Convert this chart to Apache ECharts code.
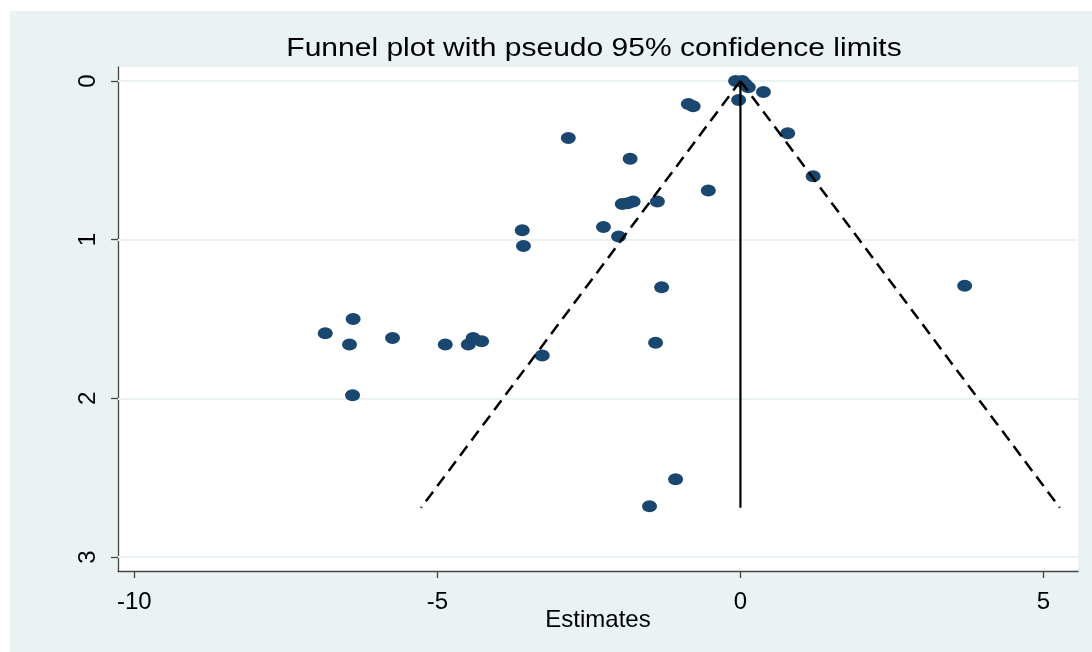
<!DOCTYPE html>
<html>
<head>
<meta charset="utf-8">
<script src="https://cdn.jsdelivr.net/npm/echarts@6/dist/echarts.min.js"></script>
<style>
  html, body { margin: 0; padding: 0; background: #ffffff; }
  #chart { width: 1092px; height: 652px; }
</style>
</head>
<body>
<div id="chart"></div>
<script>
// ---- data ----
const titleText = 'Funnel plot with pseudo 95% confidence limits';
const xAxisName = 'Estimates';
const xTicks = [-10, -5, 0, 5];
const yTicks = [0, 1, 2, 3];

// study estimates (x) and their standard errors (y)
const estimates = [
  -0.08, 0.03, 0.08, 0.13, 0.38, -0.03,
  -0.86, -0.78, -2.84, -1.82, 0.78, 1.20,
  -0.53, -1.37, -1.77, -1.86, -1.95, -2.26,
  -2.01, -3.60, -3.58, -1.30, 3.70, -6.39,
  -6.85, -6.45, -5.74, -4.87, -4.49, -4.41,
  -4.27, -3.27, -1.40, -6.40, -1.07, -1.50
];
const stdErrors = [
  0.00, 0.00, 0.02, 0.04, 0.07, 0.12,
  0.145, 0.16, 0.36, 0.49, 0.33, 0.60,
  0.69, 0.76, 0.76, 0.77, 0.775, 0.92,
  0.98, 0.94, 1.04, 1.30, 1.29, 1.50,
  1.59, 1.66, 1.62, 1.66, 1.66, 1.62,
  1.64, 1.73, 1.65, 1.98, 2.51, 2.68
];

// pseudo 95% confidence limits and pooled estimate line
const limitSE = [0, 2.69];
const lowerLimitX = [0, -5.27];
const upperLimitX = [0, 5.27];
const pooledX = [0, 0];

// ---- build ----
const points = estimates.map((e, i) => [e, stdErrors[i]]);
const lowerLine = limitSE.map((s, i) => [lowerLimitX[i], s]);
const upperLine = limitSE.map((s, i) => [upperLimitX[i], s]);
const pooledLine = limitSE.map((s, i) => [pooledX[i], s]);

const FONT = 'Liberation Sans';
const chart = echarts.init(document.getElementById('chart'), null, { renderer: 'canvas' });

chart.setOption({
  animation: false,
  backgroundColor: '#ffffff',
  graphic: [
    {
      type: 'rect', z: -10, silent: true,
      shape: { x: 10, y: 11, width: 1082, height: 641 },
      style: { fill: '#EAF2F3' }
    },
    {
      type: 'text', z: 10, silent: true,
      x: 594, y: 49, scaleX: 1.2,
      style: {
        text: titleText, fontFamily: FONT, fontSize: 25, fill: '#000000',
        textAlign: 'center', textVerticalAlign: 'middle'
      }
    }
  ],
  grid: {
    left: 118, right: 14, top: 67, bottom: 81,
    show: true, backgroundColor: '#ffffff', borderWidth: 0
  },
  xAxis: {
    type: 'value',
    min: -10.27, max: 5.57,
    name: xAxisName, nameLocation: 'middle', nameGap: 37, nameMoveOverlap: false,
    nameTextStyle: { fontFamily: FONT, fontSize: 24, color: '#000' },
    axisLine: { show: true, onZero: false, lineStyle: { color: '#444', width: 1.3 } },
    axisTick: { show: true, length: 7, customValues: xTicks, lineStyle: { color: '#444', width: 1.3 } },
    axisLabel: { customValues: xTicks, fontFamily: FONT, fontSize: 24, color: '#000', margin: 19 },
    splitLine: { show: false }
  },
  yAxis: {
    type: 'value',
    inverse: true,
    min: -0.088, max: 3.088,
    axisLine: { show: true, onZero: false, lineStyle: { color: '#444', width: 1.3 } },
    axisTick: { show: true, length: 7, customValues: yTicks, lineStyle: { color: '#444', width: 1.3 } },
    axisLabel: { customValues: yTicks, rotate: 90, fontFamily: FONT, fontSize: 24, color: '#000', margin: 18 },
    splitLine: { show: false }
  },
  series: [
    {
      type: 'line', name: 'grid', data: [], silent: true, z: 1,
      markLine: {
        z: 1, silent: true, symbol: 'none', label: { show: false },
        lineStyle: { color: '#EAF2F3', width: 2, type: 'solid' },
        data: yTicks.map(v => ({ yAxis: v }))
      }
    },
    {
      type: 'scatter', name: 'studies', data: points, z: 2,
      symbol: 'circle', symbolSize: [15, 12],
      itemStyle: { color: '#1A476F', opacity: 1 }
    },
    {
      type: 'line', name: 'lower', data: lowerLine, z: 3,
      symbol: 'none', lineStyle: { color: '#000', width: 2.5, type: [12, 7] }
    },
    {
      type: 'line', name: 'upper', data: upperLine, z: 3,
      symbol: 'none', lineStyle: { color: '#000', width: 2.5, type: [12, 7] }
    },
    {
      type: 'line', name: 'pooled', data: pooledLine, z: 3,
      symbol: 'none', lineStyle: { color: '#000', width: 2.2, type: 'solid' }
    }
  ]
});
</script>
</body>
</html>
